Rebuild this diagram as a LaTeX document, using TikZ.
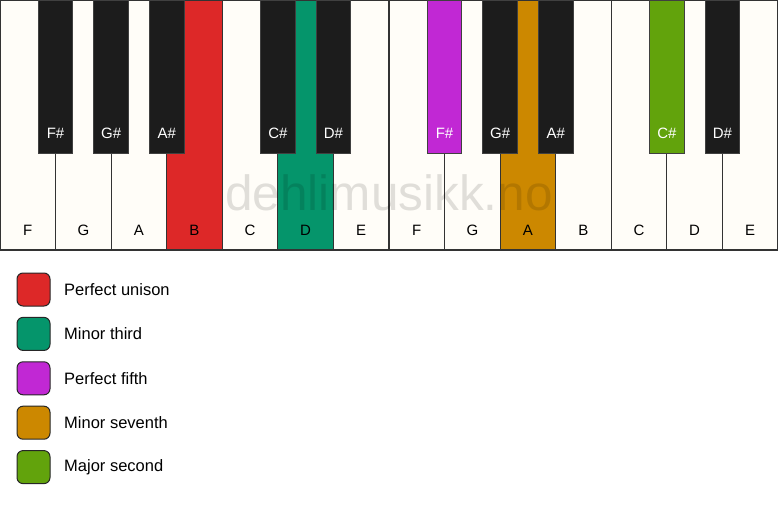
\documentclass[tikz,border=0pt]{standalone}
\usepackage{fontspec}
\setmainfont{Liberation Sans}
\usetikzlibrary{positioning}
\definecolor{keywhite}{HTML}{FFFDF8}
\definecolor{keyblack}{HTML}{1C1C1C}
\definecolor{unison}{HTML}{DD2828}
\definecolor{minthird}{HTML}{05956B}
\definecolor{perffifth}{HTML}{C128D4}
\definecolor{minseventh}{HTML}{CC8800}
\definecolor{majsecond}{HTML}{62A30C}
\tikzset{whitekey/.style={draw=black!80,line width=1.2pt,rectangle,anchor=north west,
    minimum width=55.57pt,minimum height=250pt,inner sep=0pt,outer sep=0pt},
  blackkey/.style={draw=black!75,line width=0.8pt,rectangle,anchor=north,
    minimum width=34.5pt,minimum height=153pt,inner sep=0pt,outer sep=0pt},
  keylabel/.style={font=\fontsize{15}{15}\selectfont,inner sep=0pt},
  legendbox/.style={draw=black!85,line width=1pt,rounded corners=6pt,
    minimum size=33pt,inner sep=0pt},
  legendtext/.style={font=\fontsize{16.5}{16.5}\selectfont,anchor=west,inner sep=0pt}}

\begin{document}
\begin{tikzpicture}[x=1pt,y=-1pt]
  \useasboundingbox (0,0) rectangle (778,506);
  % white keys
  \foreach \n/\c [count=\i from 0] in {F/keywhite,G/keywhite,A/keywhite,B/unison,
      C/keywhite,D/minthird,E/keywhite,F/keywhite,G/keywhite,A/minseventh,
      B/keywhite,C/keywhite,D/keywhite,E/keywhite} {
    \node[whitekey,fill=\c] (w\i) at (\i*55.57,0) {};
    \node[keylabel] (wl\i) at ([yshift=20pt]w\i.south) {\n};
  }
  % watermark
  \node[font=\fontsize{49.5}{49.5}\selectfont,text=black,opacity=0.12] (mark) at (389,193) {dehlimusikk.no};
  % black keys
  \foreach \n/\c/\j in {F\#/keyblack/1,G\#/keyblack/2,A\#/keyblack/3,C\#/keyblack/5,
      D\#/keyblack/6,F\#/perffifth/8,G\#/keyblack/9,A\#/keyblack/10,
      C\#/majsecond/12,D\#/keyblack/13} {
    \node[blackkey,fill=\c] (b\j) at (\j*55.57,0) {};
    \node[keylabel,text=white] (bl\j) at ([yshift=20pt]b\j.south) {\n};
  }
  % legend
  \foreach \c/\t [count=\k from 0] in {unison/Perfect unison,minthird/Minor third,
      perffifth/Perfect fifth,minseventh/Minor seventh,majsecond/Major second} {
    \node[legendbox,fill=\c] (lg\k) at (33.5,289.5+\k*44.4) {};
    \node[legendtext] (lt\k) at (64,289.5+\k*44.4) {\t};
  }
\end{tikzpicture}
\end{document}
